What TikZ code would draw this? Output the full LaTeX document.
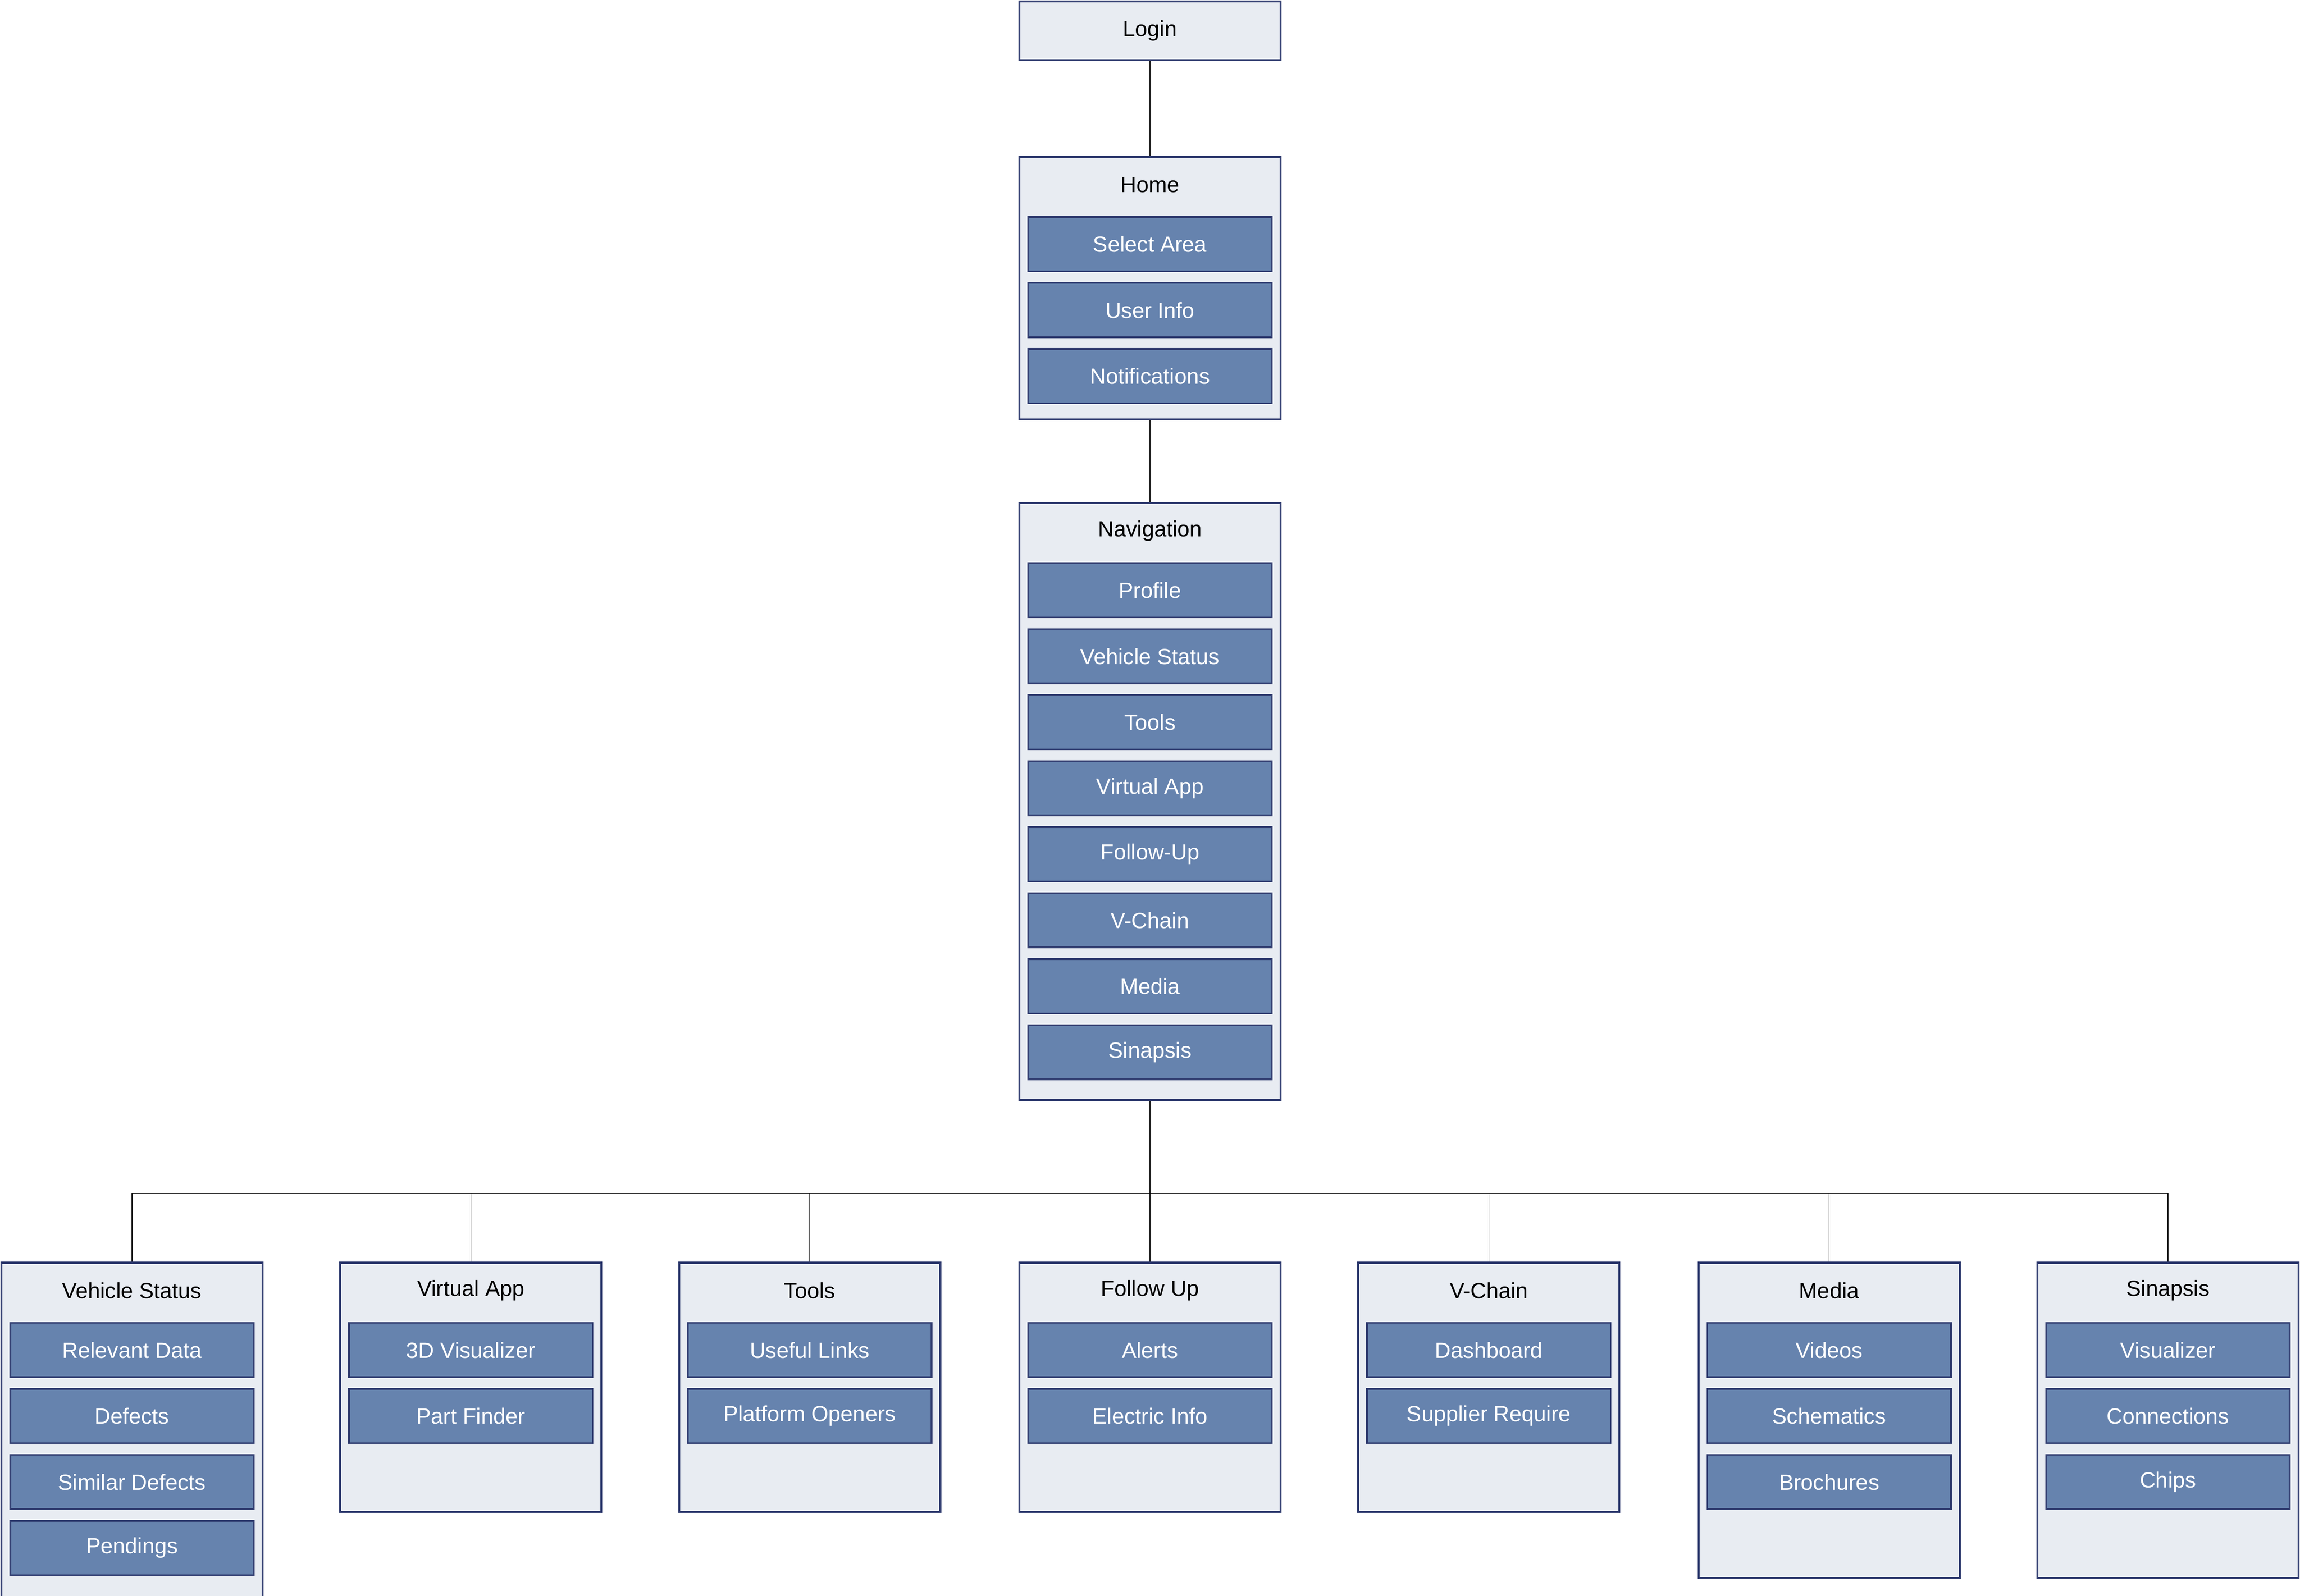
\documentclass[tikz,border=0pt]{standalone}
\usepackage{fontspec}
\setmainfont{Liberation Sans}
\definecolor{panelfill}{HTML}{E8ECF2}
\definecolor{panelline}{HTML}{2E3A6E}
\definecolor{itemfill}{HTML}{6683AE}
\begin{document}
\begin{tikzpicture}[x=1pt,y=-1pt,font=\fontsize{15}{18}\selectfont]
	\tikzset{panel/.style={draw=panelline,fill=panelfill,line width=1.3pt,minimum width=178pt,inner sep=0pt}}
	\tikzset{item/.style={draw=panelline,fill=itemfill,line width=1.1pt,text=white,minimum width=166pt,minimum height=37pt,inner sep=0pt}}
	\useasboundingbox (0,0) rectangle (1568,1088);

	% top column
	\draw (784,21) node [panel, minimum height=40pt] (Login) {Login};
	\draw (784,196.5) node [panel, minimum height=179pt] (Home) {};
	\draw (784,126) node (HomeT) {Home};
	\foreach \t [count=\i from 0] in {Select Area, User Info, Notifications}
		\draw (784,166.5+45*\i) node [item] (Home\i) {\t};

	\draw (784,546.5) node [panel, minimum height=407pt] (Nav) {};
	\draw (784,362) node (NavT) {Navigation};
	\foreach \t [count=\i from 0] in {Profile, Vehicle Status, Tools, Virtual App, Follow-Up, V-Chain, Media, Sinapsis}
		\draw (784,402.5+45*\i) node [item] (Nav\i) {\t};

	\draw (Login.south) -- (Home.north);
	\draw (Home.south) -- (Nav.north);
	\coordinate (bus) at (784,814);
	\draw (Nav.south) -- (bus);

	% children
	\foreach \n/\cx/\t/\items in {
		VS/90/Vehicle Status/{Relevant Data,Defects,Similar Defects,Pendings},
		VA/321/Virtual App/{3D Visualizer,Part Finder},
		TL/552/Tools/{Useful Links,Platform Openers},
		FU/784/Follow Up/{Alerts,Electric Info},
		VC/1015/V-Chain/{Dashboard,Supplier Require},
		MD/1247/Media/{Videos,Schematics,Brochures},
		SN/1478/Sinapsis/{Visualizer,Connections,Chips}}{
		\foreach \s [count=\k] in \items {\xdef\nitems{\k}}
		\draw (\cx,861) ++(0,{(80+45*\nitems)/2}) node [panel, minimum height={80+45*\nitems}] (\n) {};
		\draw (\cx,880) node (\n T) {\t};
		\foreach \s [count=\k from 0] in \items
			\draw (\cx,920.5+45*\k) node [item] (\n\k) {\s};
		\draw (bus) -| (\n.north);
	}
\end{tikzpicture}
\end{document}
